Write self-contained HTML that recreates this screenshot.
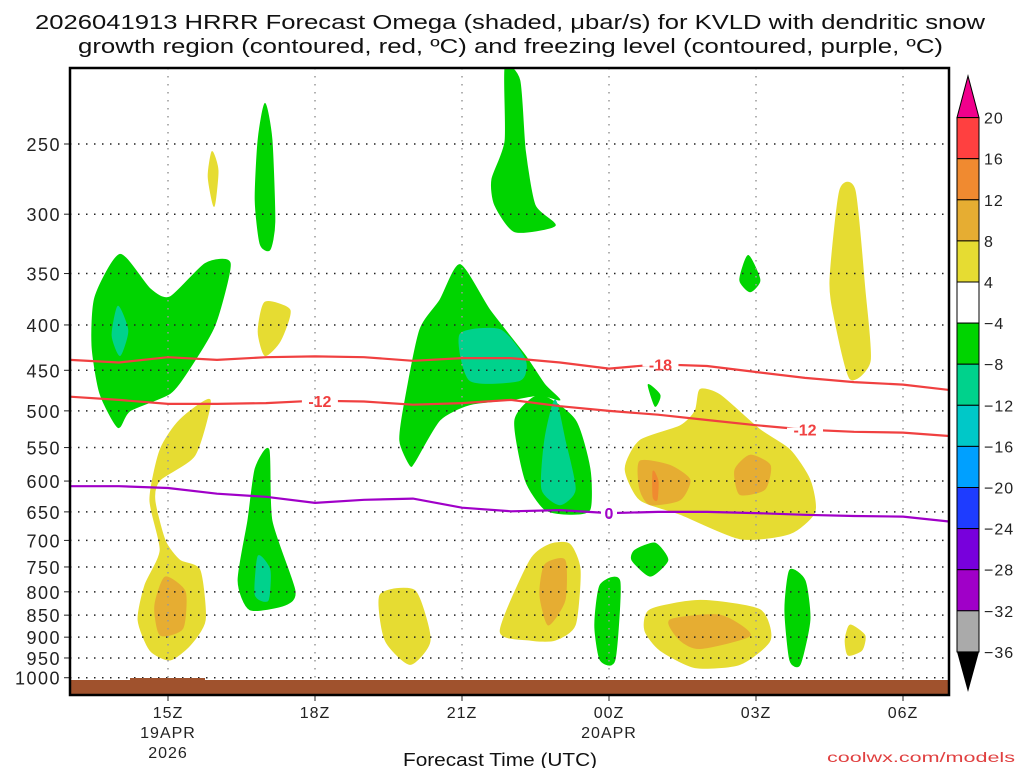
<!DOCTYPE html>
<html><head><meta charset="utf-8"><style>
html,body{margin:0;padding:0;background:#fff;}
svg{display:block;font-family:"Liberation Sans","DejaVu Sans",sans-serif;}
</style></head><body>
<svg id="chart" width="1024" height="768" viewBox="0 0 1024 768">
<text x="35" y="29" textLength="950" lengthAdjust="spacingAndGlyphs" font-size="20" fill="#111">2026041913 HRRR Forecast Omega (shaded, μbar/s) for KVLD with dendritic snow</text>
<text x="78" y="53" textLength="865" lengthAdjust="spacingAndGlyphs" font-size="20" fill="#111">growth region (contoured, red, ºC) and freezing level (contoured, purple, ºC)</text>
<g id="plot"></g>
<text x="403" y="766" textLength="194" lengthAdjust="spacingAndGlyphs" font-size="18" fill="#111">Forecast Time (UTC)</text>
<text x="827" y="762" textLength="188" lengthAdjust="spacingAndGlyphs" font-size="14" fill="#e04040">coolwx.com/models</text>
<g id="cbar"></g>
</svg>
<script>
// ---- data ----
const pressureTicks = [250,300,350,400,450,500,550,600,650,700,750,800,850,900,950,1000];
const timeTickHours = [2,5,8,11,14,17];
const timeTickLabels = ["15Z","18Z","21Z","00Z","03Z","06Z"];
const timeTickSub = [["19APR","2026"],[],[],["20APR"],[],[]];
const contourHours = [0,1,2,3,4,5,6,7,8,9,10,11,12,13,14,15,16,17,18];
const minus18 = [438,441,435,438,435,434,435,439,436,436,441,448,443,445,452,459,464,467,474];
const minus12 = [482,486,491,491,490,487,488,492,490,486,494,500,505,512,519,525,528,529,534];
const freezing0 = [608,608,611,620,625,635,630,628,643,649,647,652,650,650,652,655,657,658,667];
const cbLevels = ["20","16","12","8","4","-4","-8","-12","-16","-20","-24","-28","-32","-36"];
const cbColors = ["#ff4040","#f08a30","#e6ad32","#e6dc32","#ffffff","#00d400","#00d28c","#00c8c8","#00a0ff","#1e3cff","#7800dc","#a000c8","#aaaaaa"];
// omega regions: [color, [[hour, hPa], ...]]
const regions = [
 ["#00d400",[[1.02,333],[1.63,364],[2.04,372],[2.76,341],[3.27,341],[2.96,400],[2.45,447],[2.04,478],[1.22,500],[0.98,522],[0.61,478],[0.45,422],[0.51,372]]],
 ["#00d28c",[[0.98,381],[1.18,406],[1.02,433],[0.86,411]]],
 ["#e6dc32",[[2.9,255],[3.02,268],[2.94,294],[2.82,272]]],
 ["#00d400",[[3.98,225],[4.12,247],[4.18,306],[4.08,329],[3.88,324],[3.78,289],[3.84,247]]],
 ["#e6dc32",[[3.98,377],[4.49,385],[4.29,417],[3.98,433],[3.84,407]]],
 ["#e6dc32",[[2.86,486],[2.55,561],[1.84,598],[1.73,630],[1.94,700],[2.24,737],[2.65,756],[2.76,861],[2.45,919],[2.04,955],[1.63,931],[1.39,861],[1.53,786],[1.84,718],[1.63,630],[1.84,553],[2.24,512]]],
 ["#e6ad32",[[1.94,770],[2.35,800],[2.3,880],[1.84,895],[1.73,830]]],
 ["#00d400",[[4.06,553],[4.12,665],[4.59,797],[4.39,828],[3.67,838],[3.43,777],[3.63,665],[3.78,581]]],
 ["#00d28c",[[3.84,729],[4.08,756],[4.04,818],[3.78,806]]],
 ["#00d400",[[7.96,342],[8.57,385],[9.29,433],[9.69,467],[10.0,486],[9.59,480],[8.98,486],[8.16,492],[7.55,512],[7.04,570],[6.94,576],[6.73,540],[6.84,486],[7.14,405],[7.55,375]]],
 ["#00d400",[[9.59,480],[10.31,512],[10.61,581],[10.61,646],[10.2,654],[9.69,646],[9.29,598],[9.08,512]]],
 ["#00d28c",[[7.96,410],[8.78,405],[9.29,438],[9.18,462],[8.16,462]]],
 ["#00d28c",[[9.9,486],[10.1,539],[10.31,613],[10.0,638],[9.63,613],[9.69,539]]],
 ["#00d400",[[8.88,205],[9.18,212],[9.29,254],[9.49,293],[9.9,309],[9.08,314],[8.67,293],[8.61,274],[8.88,248]]],
 ["#e6dc32",[[6.33,806],[7.04,798],[7.35,907],[6.94,966],[6.43,907]]],
 ["#e6dc32",[[8.78,886],[9.39,737],[9.8,707],[10.2,707],[10.41,756],[10.31,872],[9.9,907],[9.39,907]]],
 ["#e6ad32",[[9.69,746],[10.1,737],[10.1,818],[9.76,872],[9.59,806]]],
 ["#00d400",[[10.82,786],[11.22,778],[11.12,955],[10.82,955],[10.71,872]]],
 ["#00d400",[[11.53,718],[11.94,705],[12.2,737],[11.84,768],[11.47,737]]],
 ["#00d400",[[11.8,467],[12.04,480],[11.94,494]]],
 ["#e6dc32",[[12.86,473],[13.27,480],[14.08,525],[14.69,553],[15.1,598],[15.2,650],[14.69,688],[13.67,697],[12.45,654],[11.63,630],[11.33,581],[11.63,540],[12.45,520],[12.76,500]]],
 ["#e6ad32",[[11.63,570],[12.24,576],[12.65,598],[12.45,630],[11.84,638],[11.63,613]]],
 ["#e6ad32",[[13.88,561],[14.29,576],[14.18,613],[13.67,621],[13.57,583]]],
 ["#f08a30",[[11.9,585],[12.0,600],[11.98,630],[11.9,625]]],
 ["#e6dc32",[[11.84,838],[12.86,818],[14.08,838],[14.29,907],[13.67,966],[12.76,974],[12.04,931],[11.73,884]]],
 ["#e6ad32",[[12.24,861],[13.27,850],[13.88,896],[12.86,927],[12.45,907]]],
 ["#00d400",[[13.84,334],[14.08,356],[13.88,367],[13.67,356]]],
 ["#00d400",[[14.69,756],[15.0,777],[15.1,861],[14.9,966],[14.69,955],[14.59,838]]],
 ["#e6dc32",[[15.71,282],[16.02,282],[16.22,364],[16.33,439],[15.92,460],[15.61,395],[15.51,356]]],
 ["#e6dc32",[[15.92,872],[16.22,896],[16.16,931],[15.88,943],[15.82,907]]]
];
// ---- layout ----
const X0=70,X1=949,Y0=68,Y1=695;
const NS="http://www.w3.org/2000/svg";
const xs=h=>X0+49*h;
const ys=p=>144+385*Math.log(p/250);
function mk(tag,attrs,parent){const e=document.createElementNS(NS,tag);for(const k in attrs)e.setAttribute(k,attrs[k]);parent.appendChild(e);return e;}
function smoothClosed(P){
  const n=P.length;let d='M'+P[0][0].toFixed(1)+','+P[0][1].toFixed(1);
  const t=0.35*0.66/2;
  for(let i=0;i<n;i++){
    const p0=P[(i-1+n)%n],p1=P[i],p2=P[(i+1)%n],p3=P[(i+2)%n];
    const c1=[p1[0]+(p2[0]-p0[0])*t,p1[1]+(p2[1]-p0[1])*t];
    const c2=[p2[0]-(p3[0]-p1[0])*t,p2[1]-(p3[1]-p1[1])*t];
    d+='C'+c1[0].toFixed(1)+','+c1[1].toFixed(1)+' '+c2[0].toFixed(1)+','+c2[1].toFixed(1)+' '+p2[0].toFixed(1)+','+p2[1].toFixed(1);
  }
  return d+'Z';
}
const plot=document.getElementById('plot');
const defs=mk('defs',{},plot);
const cp=mk('clipPath',{id:'clip'},defs);
mk('rect',{x:X0,y:Y0,width:X1-X0,height:Y1-Y0},cp);
const inner=mk('g',{'clip-path':'url(#clip)'},plot);
regions.forEach((r,i)=>{
  const P=r[1].map(d=>[xs(d[0]),ys(d[1])]);
  const e=mk('path',{d:smoothClosed(P),fill:r[0],'stroke':r[0],'stroke-width':1},inner);
  
  
});
// grid
pressureTicks.forEach(p=>{
  const y=ys(p);
  const l=mk('line',{x1:X0,x2:X1,y1:y,y2:y,stroke:'#222','stroke-width':1.5,'stroke-dasharray':'1.5,6.5'},inner);
  
  
  const t=mk('text',{x:61,y:y+7,'text-anchor':'end','font-size':18,fill:'#222','letter-spacing':1.5},plot);
  t.textContent=String(p);
  
  
  mk('line',{x1:X0-6,x2:X0,y1:y,y2:y,stroke:'#222','stroke-width':1},plot);
});
timeTickHours.forEach((h,i)=>{
  const x=xs(h);
  const l=mk('line',{x1:x,x2:x,y1:Y0,y2:Y1,stroke:'#999','stroke-width':1.5,'stroke-dasharray':'1.5,6.5'},inner);
  
  
  mk('line',{x1:x,x2:x,y1:Y1,y2:Y1+6,stroke:'#222','stroke-width':1},plot);
  const t=mk('text',{x:x,y:718,'text-anchor':'middle','font-size':16,fill:'#222','letter-spacing':1},plot);
  t.textContent=timeTickLabels[i];
  
  
  timeTickSub[i].forEach((s,j)=>{
    const u=mk('text',{x:x,y:738+j*20,'text-anchor':'middle','font-size':16,fill:'#222','letter-spacing':1},plot);
    u.textContent=s;
    
    
  });
});
// contours
function contour(vals,color,name){
  const d=contourHours.map((h,i)=>(i?'L':'M')+xs(h).toFixed(1)+','+ys(vals[i]).toFixed(1)).join('');
  const e=mk('path',{d:d,fill:'none',stroke:color,'stroke-width':2.2},inner);
  
  
}
contour(minus18,'#f04040','contour-minus18');
contour(minus12,'#f04040','contour-minus12');
contour(freezing0,'#a000c8','contour-freezing');
function clabel(h,vals,txt,color){
  const i=Math.floor(h),f=h-i;
  const p=vals[i]+(vals[i+1]-vals[i])*f;
  const x=xs(h),y=ys(p);
  const w=txt.length*10+6;
  mk('line',{x1:x-w/2,x2:x+w/2,y1:y,y2:y,stroke:'#fff','stroke-width':4},inner);
  const t=mk('text',{x:x,y:y+6,'text-anchor':'middle','font-size':16,'font-weight':'bold',fill:color},inner);
  t.textContent=txt;
  
  
}
clabel(12.05,minus18,'-18','#f04040');
clabel(5.1,minus12,'-12','#f04040');
clabel(15.0,minus12,'-12','#f04040');
clabel(11.0,freezing0,'0','#a000c8');
// ground
const g=mk('path',{d:`M${X0},680 L130,680 L130,678 L205,678 L205,680 L${X1},680 L${X1},${Y1} L${X0},${Y1}Z`,fill:'#a0522d'},inner);


const fr=mk('rect',{x:X0,y:Y0,width:X1-X0,height:Y1-Y0,fill:'none',stroke:'#000','stroke-width':2.5},plot);


// colorbar
const cb=document.getElementById('cbar');
const cbX=957,cbW=22,cbTop=117.6,cbH=41.1;
const tri1=mk('polygon',{points:`${cbX},${cbTop} ${cbX+cbW},${cbTop} ${cbX+cbW/2},76`,fill:'#f0008c',stroke:'#000','stroke-width':1},cb);


cbColors.forEach((c,i)=>{
  const r=mk('rect',{x:cbX,y:cbTop+i*cbH,width:cbW,height:cbH,fill:c,stroke:'#000','stroke-width':1},cb);
  
  
});
const bot=cbTop+cbColors.length*cbH;
const tri2=mk('polygon',{points:`${cbX},${bot} ${cbX+cbW},${bot} ${cbX+cbW/2},692`,fill:'#000'},cb);


cbLevels.forEach((s,i)=>{
  const t=mk('text',{x:984,y:cbTop+i*cbH+6,'font-size':16,fill:'#222','letter-spacing':1},cb);
  t.textContent=s.replace('-','−');
  
  
});
</script>
</body></html>
